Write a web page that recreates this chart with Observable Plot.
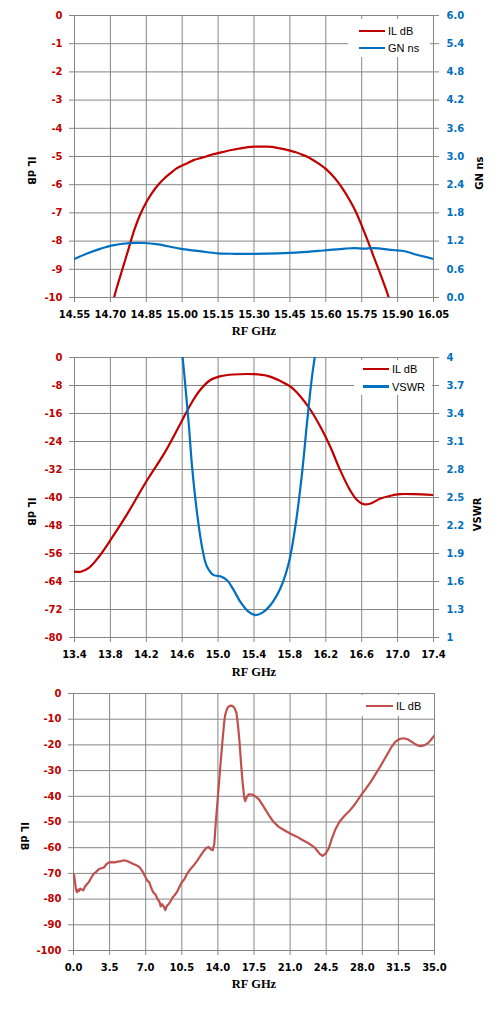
<!DOCTYPE html>
<html><head><meta charset="utf-8">
<script src="https://cdn.jsdelivr.net/npm/d3@7"></script>
<script src="https://cdn.jsdelivr.net/npm/@observablehq/plot@0.6"></script>
<style>
body{margin:0;background:#fff;}
.chart{position:relative;width:503px;overflow:hidden;}
.chart svg{position:absolute;left:0;top:0;}
.legend{position:absolute;background:#fff;font:11px "Liberation Sans",Arial,sans-serif;color:#000;}
.legend .txt{position:absolute;white-space:nowrap;line-height:14px;}
.legend .sw{position:absolute;height:2.4px;}
</style></head><body>
<div id="c1" class="chart" style="height:338px"></div>
<div id="c2" class="chart" style="height:340px"></div>
<div id="c3" class="chart" style="height:335px"></div>
<script>
// ---------- Chart 1 data ----------
const c1XTicks = [14.55, 14.70, 14.85, 15.00, 15.15, 15.30, 15.45, 15.60, 15.75, 15.90, 16.05];
const c1YTicks = [0, -1, -2, -3, -4, -5, -6, -7, -8, -9, -10];
const c1Y2Ticks = [0, 0.6, 1.2, 1.8, 2.4, 3.0, 3.6, 4.2, 4.8, 5.4, 6.0];
const c1IlFreq = [14.70, 14.725, 14.75, 14.775, 14.80, 14.825, 14.85, 14.875, 14.90, 14.925, 14.95, 14.975, 15.00, 15.025, 15.05, 15.075, 15.10, 15.125, 15.15, 15.175, 15.20, 15.225, 15.25, 15.275, 15.30, 15.325, 15.35, 15.375, 15.40, 15.425, 15.45, 15.475, 15.50, 15.525, 15.55, 15.575, 15.60, 15.625, 15.65, 15.675, 15.70, 15.725, 15.75, 15.775, 15.80, 15.825, 15.85, 15.875];
const c1Il = [-10.5, -9.7, -9.0, -8.3, -7.6, -7.05, -6.62, -6.28, -6.0, -5.78, -5.6, -5.43, -5.32, -5.22, -5.12, -5.06, -5.0, -4.93, -4.88, -4.83, -4.78, -4.74, -4.70, -4.67, -4.65, -4.65, -4.65, -4.66, -4.70, -4.74, -4.79, -4.85, -4.93, -5.02, -5.14, -5.28, -5.44, -5.65, -5.90, -6.2, -6.55, -6.95, -7.45, -7.98, -8.55, -9.1, -9.68, -10.3];
const c1GnFreq = [14.55, 14.60, 14.66, 14.71, 14.78, 14.84, 14.90, 14.99, 15.08, 15.15, 15.22, 15.30, 15.40, 15.49, 15.59, 15.68, 15.72, 15.76, 15.80, 15.88, 15.93, 15.98, 16.05];
const c1Gn = [0.82, 0.93, 1.04, 1.11, 1.155, 1.16, 1.13, 1.04, 0.98, 0.94, 0.93, 0.93, 0.94, 0.96, 1.0, 1.04, 1.05, 1.04, 1.05, 1.01, 0.985, 0.91, 0.82];

// ---------- Chart 2 data ----------
const c2XTicks = [13.4, 13.8, 14.2, 14.6, 15.0, 15.4, 15.8, 16.2, 16.6, 17.0, 17.4];
const c2YTicks = [0, -8, -16, -24, -32, -40, -48, -56, -64, -72, -80];
const c2Y2Ticks = [1, 1.3, 1.6, 1.9, 2.2, 2.5, 2.8, 3.1, 3.4, 3.7, 4];
const c2IlFreq = [13.4, 13.47, 13.56, 13.67, 13.80, 13.99, 14.21, 14.40, 14.58, 14.71, 14.80, 14.91, 15.03, 15.17, 15.40, 15.55, 15.69, 15.81, 15.92, 16.03, 16.14, 16.25, 16.36, 16.47, 16.55, 16.62, 16.70, 16.81, 16.92, 17.03, 17.18, 17.4];
const c2Il = [-61.2, -61.2, -60.1, -57.0, -52.2, -44.6, -35.0, -27.4, -18.9, -12.7, -9.3, -6.5, -5.33, -4.86, -4.76, -5.24, -6.67, -8.4, -11.2, -15.0, -19.8, -25.5, -32.2, -37.9, -40.8, -41.9, -41.7, -40.3, -39.5, -39.05, -39.05, -39.3];
const c2VswrFreq = [14.60, 14.636, 14.673, 14.71, 14.766, 14.821, 14.877, 14.951, 15.025, 15.10, 15.174, 15.248, 15.341, 15.415, 15.49, 15.582, 15.693, 15.786, 15.86, 15.935, 15.99, 16.046, 16.085];
const c2Vswr = [4.05, 3.686, 3.29, 2.83, 2.33, 1.97, 1.757, 1.668, 1.657, 1.614, 1.507, 1.382, 1.275, 1.24, 1.264, 1.346, 1.525, 1.793, 2.186, 2.757, 3.293, 3.793, 4.05];

// ---------- Chart 3 data ----------
const c3XTicks = [0, 3.5, 7, 10.5, 14, 17.5, 21, 24.5, 28, 31.5, 35];
const c3YTicks = [0, -10, -20, -30, -40, -50, -60, -70, -80, -90, -100];
const c3Freq = [0.05, 0.15, 0.25, 0.35, 0.45, 0.55, 0.65, 0.8, 0.95, 1.1, 1.3, 1.5, 1.7, 1.95, 2.2, 2.45, 2.7, 2.95, 3.15, 3.4, 3.7, 4.0, 4.3, 4.6, 4.9, 5.2, 5.5, 5.8, 6.1, 6.4, 6.7, 6.95, 7.15, 7.35, 7.55, 7.75, 7.95, 8.15, 8.35, 8.45, 8.6, 8.75, 8.9, 9.05, 9.2, 9.4, 9.6, 9.8, 10.05, 10.3, 10.5, 10.75, 11.0, 11.3, 11.65, 12.0, 12.3, 12.6, 12.9, 13.1, 13.3, 13.5, 13.65, 13.8, 14.0, 14.2, 14.4, 14.6, 14.7, 14.85, 15.0, 15.2, 15.4, 15.6, 15.8, 15.95, 16.1, 16.25, 16.4, 16.55, 16.65, 16.8, 17.0, 17.3, 17.6, 18.0, 18.45, 18.9, 19.4, 19.9, 20.4, 21.0, 21.6, 22.2, 22.8, 23.4, 23.9, 24.15, 24.45, 24.75, 25.05, 25.4, 25.8, 26.3, 26.8, 27.3, 27.8, 28.3, 28.8, 29.3, 29.8, 30.3, 30.8, 31.2, 31.6, 32.0, 32.4, 32.8, 33.2, 33.6, 34.0, 34.4, 34.7, 35.0];
const c3Il = [-70.5, -73.5, -76.5, -77.3, -76.3, -76.8, -75.9, -76.3, -76.6, -75.2, -74.2, -73.3, -71.8, -70.2, -69.4, -68.4, -68.0, -67.7, -66.6, -65.8, -65.6, -65.7, -65.4, -65.2, -64.9, -65.2, -65.8, -66.3, -66.8, -67.6, -69.3, -71.2, -72.8, -73.5, -75.8, -77.5, -78.2, -80.0, -81.2, -82.8, -82.0, -82.9, -84.3, -82.6, -82.1, -80.9, -79.4, -78.5, -77.1, -75.0, -73.4, -72.3, -70.2, -68.5, -66.9, -65.0, -63.2, -61.4, -60.0, -59.7, -60.6, -61.0, -58.5, -50.0, -40.0, -30.0, -20.5, -11.5, -8.5, -6.3, -5.2, -4.7, -4.8, -5.6, -7.5, -12.5, -19.0, -27.5, -34.8, -40.5, -41.9, -40.2, -39.2, -39.3, -39.9, -41.3, -44.1, -47.1, -50.0, -51.9, -53.1, -54.5, -55.6, -57.0, -58.3, -60.0, -62.5, -63.2, -62.3, -60.2, -56.5, -52.8, -49.8, -47.5, -45.5, -43.0, -40.0, -37.3, -34.5, -31.3, -28.0, -24.5, -21.0, -18.8, -17.7, -17.4, -17.8, -18.8, -19.9, -20.5, -20.2, -19.2, -17.8, -16.3];

// ---------- Styling ----------
const GRID = "#868686";
const RED = "#c00000";
const BLUE = "#0070c0";
const RED3 = "#c0504d";
const TICKFONT = "'DejaVu Sans', Verdana, sans-serif";
const baseStyle = {background: "transparent", fontFamily: TICKFONT, fontSize: "10px", fontWeight: "bold", overflow: "visible"};

const zip = (xs, ys) => xs.map((x, i) => ({x, y: ys[i]}));

function primary({el, height, margins, xDomain, yDomain, xTicks, yTicks, xFmt, yFmt, yColor, series, color, curve, yLabelDx, xLabelDy}) {
  const svg = Plot.plot({
    width: 503, height, ...margins,
    x: {domain: xDomain, axis: null},
    y: {domain: yDomain, axis: null},
    style: baseStyle,
    marks: [
      Plot.gridX(xTicks, {stroke: GRID, strokeOpacity: 1, strokeWidth: 1}),
      Plot.gridY(yTicks, {stroke: GRID, strokeOpacity: 1, strokeWidth: 1}),
      Plot.axisX(xTicks, {anchor: "bottom", tickSize: 5, tickPadding: 8, stroke: GRID, fill: "#000", tickFormat: xFmt, label: null}),
      Plot.axisY(yTicks, {anchor: "left", tickSize: 5, tickPadding: 7, stroke: GRID, fill: yColor, tickFormat: yFmt, label: null}),
      Plot.line(series, {x: "x", y: "y", stroke: color, strokeWidth: 2.2, curve, clip: true}),
      Plot.text(["IL dB"], {frameAnchor: "left", dx: yLabelDx, rotate: 90, text: d => d, fontSize: 10, fontWeight: "bold", fontFamily: TICKFONT, fill: "#000"}),
      Plot.text(["RF GHz"], {frameAnchor: "bottom", dy: xLabelDy, text: d => d, fontSize: 12.5, fontWeight: "bold", fontFamily: "'Liberation Serif', 'DejaVu Serif', serif", fill: "#000"})
    ]
  });
  el.appendChild(svg);
}

function secondary({el, height, margins, xDomain, yDomain, yTicks, yFmt, series, label, labelDx}) {
  const svg = Plot.plot({
    width: 503, height, ...margins,
    x: {domain: xDomain, axis: null},
    y: {domain: yDomain, axis: null},
    style: baseStyle,
    marks: [
      Plot.axisY(yTicks, {anchor: "right", tickSize: 5, tickPadding: 8, stroke: GRID, fill: BLUE, tickFormat: yFmt, label: null}),
      Plot.line(series, {x: "x", y: "y", stroke: BLUE, strokeWidth: 2.2, curve: "catmull-rom", clip: true}),
      Plot.text([label], {frameAnchor: "right", dx: labelDx, rotate: -90, text: d => d, fontSize: 10, fontWeight: "bold", fontFamily: TICKFONT, fill: "#000"})
    ]
  });
  el.appendChild(svg);
}

function legend(el, box, items) {
  const d = document.createElement("div");
  d.className = "legend";
  Object.assign(d.style, {left: box.x + "px", top: box.y + "px", width: box.w + "px", height: box.h + "px"});
  for (const it of items) {
    const sw = document.createElement("div");
    sw.className = "sw";
    Object.assign(sw.style, {left: (box.sx - box.x) + "px", width: box.sw + "px", top: (it.y - box.y - 1.2) + "px", background: it.color});
    const t = document.createElement("div");
    t.className = "txt";
    t.textContent = it.label;
    Object.assign(t.style, {left: (box.tx - box.x) + "px", top: (it.y - box.y - 7) + "px"});
    d.appendChild(sw); d.appendChild(t);
  }
  el.appendChild(d);
}

// ---------- Chart 1 ----------
const el1 = document.getElementById("c1");
const m1 = {marginLeft: 74, marginRight: 70, marginTop: 15, marginBottom: 41};
primary({el: el1, height: 338, margins: m1, xDomain: [14.55, 16.05], yDomain: [-10, 0], xTicks: c1XTicks, yTicks: c1YTicks,
  xFmt: d => d.toFixed(2), yFmt: d => d.toFixed(0), yColor: RED, series: zip(c1IlFreq, c1Il), color: RED, curve: "catmull-rom", yLabelDx: -43, xLabelDy: 37});
secondary({el: el1, height: 338, margins: m1, xDomain: [14.55, 16.05], yDomain: [0, 6], yTicks: c1Y2Ticks,
  yFmt: d => d.toFixed(1), series: zip(c1GnFreq, c1Gn), label: "GN ns", labelDx: 46});
legend(el1, {x: 348, y: 19, w: 82, h: 38, sx: 359, sw: 26, tx: 388}, [
  {label: "IL dB", color: RED, y: 31},
  {label: "GN ns", color: BLUE, y: 48}
]);

// ---------- Chart 2 ----------
const el2 = document.getElementById("c2");
const m2 = {marginLeft: 74, marginRight: 70, marginTop: 19, marginBottom: 41};
primary({el: el2, height: 340, margins: m2, xDomain: [13.4, 17.4], yDomain: [-80, 0], xTicks: c2XTicks, yTicks: c2YTicks,
  xFmt: d => d.toFixed(1), yFmt: d => d.toFixed(0), yColor: RED, series: zip(c2IlFreq, c2Il), color: RED, curve: "catmull-rom", yLabelDx: -43, xLabelDy: 38});
secondary({el: el2, height: 340, margins: m2, xDomain: [13.4, 17.4], yDomain: [1, 4], yTicks: c2Y2Ticks,
  yFmt: d => String(d), series: zip(c2VswrFreq, c2Vswr), label: "VSWR", labelDx: 44});
legend(el2, {x: 354, y: 22, w: 78, h: 35, sx: 363, sw: 26, tx: 392}, [
  {label: "IL dB", color: RED, y: 31},
  {label: "VSWR", color: BLUE, y: 48.5}
]);

// ---------- Chart 3 ----------
const el3 = document.getElementById("c3");
const m3 = {marginLeft: 73, marginRight: 69, marginTop: 15, marginBottom: 63};
primary({el: el3, height: 335, margins: m3, xDomain: [0, 35], yDomain: [-100, 0], xTicks: c3XTicks, yTicks: c3YTicks,
  xFmt: d => d.toFixed(1), yFmt: d => d.toFixed(0), yColor: RED, series: zip(c3Freq, c3Il), color: RED3, curve: "linear", yLabelDx: -49, xLabelDy: 37});
legend(el3, {x: 358, y: 17, w: 75, h: 21, sx: 366, sw: 27, tx: 396}, [
  {label: "IL dB", color: RED3, y: 27.7}
]);
</script>
</body></html>
